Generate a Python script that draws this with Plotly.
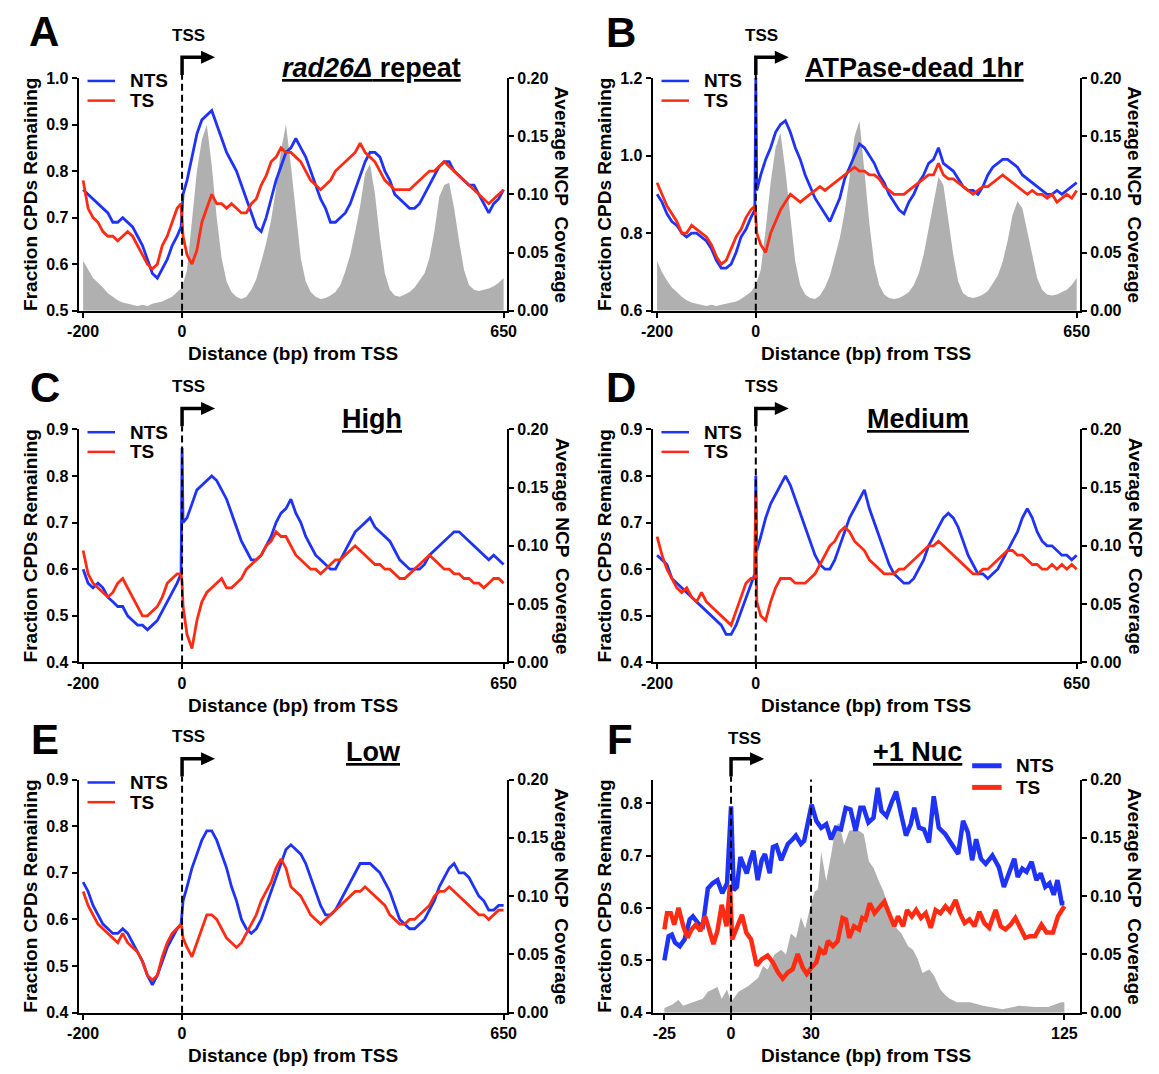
import plotly.graph_objects as go

# The page body keeps an 8px margin, so the figure is drawn 16px smaller
# and every position below is given in page pixels (offset by 8px).
PAGE_W, PAGE_H = 1159, 1074
OFF = 8
W, H = PAGE_W - 2 * OFF, PAGE_H - 2 * OFF
FONT = "Liberation Sans, Arial, Helvetica, sans-serif"
BLUE = "#1f33f7"
RED = "#ff2b12"
GRAY = "#b0b0b0"

# ---------------- data ----------------
# common positions for panels A-E (bp from TSS)
X_POS = list(range(-200, 0, 10)) + [-2, 0, 2] + list(range(10, 651, 10))
X_NCP = list(range(-200, 651, 10))

A_NTS = [0.76,0.75,0.74,0.73,0.72,0.71,0.69,0.69,0.70,0.69,0.68,0.66,0.64,0.61,0.58,0.57,0.59,0.61,0.64,0.66,
         0.68,0.71,0.75,
         0.78,0.83,0.88,0.91,0.92,0.93,0.90,0.87,0.84,0.82,
         0.80,0.77,0.74,0.71,0.68,0.67,0.70,0.74,0.78,0.81,
         0.84,0.85,0.87,0.85,0.83,0.80,0.77,0.74,0.72,0.69,
         0.69,0.70,0.71,0.73,0.76,0.79,0.82,0.84,0.84,0.83,
         0.80,0.78,0.75,0.74,0.73,0.72,0.72,0.73,0.75,0.77,
         0.79,0.81,0.82,0.82,0.80,0.79,0.78,0.77,0.77,0.75,
         0.73,0.71,0.73,0.74,0.76]
A_TS = [0.78,0.72,0.70,0.69,0.67,0.66,0.66,0.65,0.66,0.67,0.66,0.64,0.62,0.60,0.59,0.60,0.64,0.66,0.69,0.72,
        0.73,0.70,0.66,
        0.62,0.60,0.63,0.69,0.72,0.75,0.73,0.73,0.72,0.73,
        0.72,0.71,0.71,0.73,0.74,0.77,0.79,0.82,0.83,0.85,
        0.84,0.84,0.83,0.82,0.80,0.78,0.77,0.76,0.77,0.78,
        0.80,0.81,0.82,0.83,0.84,0.86,0.84,0.83,0.82,0.80,
        0.78,0.77,0.76,0.76,0.76,0.76,0.77,0.78,0.79,0.80,
        0.80,0.81,0.82,0.81,0.80,0.79,0.78,0.77,0.76,0.75,
        0.74,0.73,0.74,0.75,0.76]
A_NCP = [.043,.035,.028,.024,.020,.015,.012,.009,.007,.006,
         .005,.004,.005,.004,.006,.007,.008,.010,.012,.016,
         .020,.035,.075,.120,.147,.160,.125,.080,.045,.025,
         .016,.012,.010,.012,.018,.027,.042,.058,.078,.105,
         .138,.160,.125,.082,.045,.025,.016,.012,.010,.011,
         .013,.016,.022,.034,.048,.068,.090,.118,.126,.100,
         .062,.032,.018,.013,.012,.014,.016,.020,.026,.032,
         .045,.068,.098,.108,.110,.088,.060,.035,.022,.018,
         .017,.018,.019,.021,.024,.028]

B_NTS = [0.90,0.88,0.85,0.83,0.82,0.80,0.79,0.80,0.80,0.79,0.78,0.76,0.73,0.71,0.71,0.72,0.75,0.79,0.81,0.84,
         0.86,1.20,0.91,
         0.95,0.99,1.02,1.06,1.08,1.09,1.06,1.02,0.99,0.95,
         0.92,0.89,0.87,0.85,0.83,0.86,0.89,0.94,0.97,1.00,
         1.03,1.02,1.00,0.98,0.95,0.93,0.90,0.88,0.86,0.85,
         0.88,0.90,0.93,0.95,0.98,0.99,1.02,0.98,0.97,0.96,
         0.94,0.92,0.91,0.91,0.90,0.92,0.95,0.97,0.98,0.99,
         0.99,0.98,0.97,0.95,0.94,0.93,0.92,0.91,0.90,0.90,
         0.91,0.90,0.91,0.92,0.93]
B_TS = [0.93,0.90,0.87,0.85,0.83,0.80,0.80,0.82,0.81,0.80,0.79,0.77,0.74,0.72,0.73,0.76,0.79,0.81,0.84,0.86,
        0.87,0.84,0.80,
        0.77,0.75,0.80,0.83,0.86,0.88,0.90,0.89,0.88,0.89,
        0.90,0.91,0.92,0.91,0.92,0.93,0.94,0.95,0.96,0.97,
        0.96,0.96,0.95,0.95,0.94,0.92,0.91,0.90,0.90,0.90,
        0.91,0.92,0.93,0.94,0.95,0.95,0.98,0.95,0.94,0.94,
        0.93,0.92,0.91,0.90,0.91,0.92,0.92,0.93,0.94,0.95,
        0.94,0.93,0.92,0.91,0.90,0.91,0.90,0.90,0.89,0.90,
        0.88,0.89,0.90,0.89,0.91]
B_NCP = [.043,.033,.026,.020,.016,.012,.009,.007,.006,.005,
         .004,.005,.004,.005,.006,.007,.008,.010,.013,.016,
         .022,.035,.070,.110,.140,.153,.120,.078,.042,.022,
         .014,.011,.010,.013,.020,.030,.045,.062,.085,.115,
         .150,.163,.120,.075,.040,.022,.014,.011,.010,.011,
         .013,.016,.022,.032,.048,.070,.095,.115,.108,.080,
         .048,.025,.015,.012,.011,.012,.014,.017,.023,.030,
         .042,.060,.082,.094,.088,.068,.045,.028,.018,.014,
         .013,.014,.016,.018,.022,.028]

C_NTS = [0.60,0.57,0.56,0.57,0.56,0.54,0.53,0.52,0.52,0.50,0.49,0.48,0.48,0.47,0.48,0.49,0.51,0.53,0.55,0.57,
         0.59,0.86,0.70,
         0.71,0.74,0.77,0.78,0.79,0.80,0.79,0.77,0.75,0.72,
         0.69,0.66,0.64,0.62,0.62,0.63,0.65,0.67,0.70,0.72,
         0.73,0.75,0.72,0.70,0.67,0.65,0.63,0.62,0.61,0.60,
         0.60,0.62,0.64,0.66,0.68,0.69,0.70,0.71,0.69,0.68,
         0.67,0.66,0.64,0.62,0.61,0.60,0.60,0.60,0.61,0.63,
         0.64,0.65,0.66,0.67,0.68,0.68,0.67,0.66,0.65,0.64,
         0.63,0.62,0.63,0.62,0.61]
C_TS = [0.64,0.59,0.57,0.56,0.55,0.54,0.55,0.57,0.58,0.56,0.54,0.52,0.50,0.50,0.51,0.52,0.54,0.57,0.58,0.59,
        0.59,0.57,0.52,
        0.46,0.43,0.49,0.53,0.55,0.56,0.57,0.58,0.56,0.56,
        0.57,0.58,0.60,0.61,0.62,0.63,0.65,0.66,0.68,0.67,
        0.67,0.65,0.63,0.62,0.61,0.60,0.60,0.59,0.60,0.61,
        0.62,0.62,0.63,0.64,0.65,0.64,0.63,0.62,0.61,0.61,
        0.60,0.60,0.59,0.58,0.58,0.59,0.60,0.61,0.62,0.63,
        0.62,0.61,0.60,0.60,0.59,0.59,0.58,0.58,0.57,0.57,
        0.56,0.57,0.58,0.58,0.57]

D_NTS = [0.63,0.62,0.61,0.58,0.57,0.56,0.55,0.54,0.53,0.52,0.51,0.50,0.49,0.48,0.46,0.46,0.48,0.51,0.54,0.57,
         0.59,0.80,0.64,
         0.67,0.71,0.74,0.76,0.78,0.80,0.78,0.75,0.72,0.69,
         0.66,0.63,0.61,0.60,0.60,0.62,0.65,0.68,0.71,0.73,
         0.75,0.77,0.73,0.70,0.67,0.64,0.61,0.59,0.58,0.57,
         0.57,0.58,0.60,0.62,0.65,0.67,0.69,0.71,0.72,0.71,
         0.69,0.66,0.63,0.61,0.59,0.59,0.58,0.59,0.60,0.62,
         0.64,0.66,0.68,0.71,0.73,0.71,0.68,0.66,0.65,0.65,
         0.64,0.63,0.63,0.62,0.63]
D_TS = [0.67,0.63,0.60,0.58,0.56,0.55,0.56,0.54,0.53,0.55,0.53,0.52,0.51,0.50,0.49,0.48,0.51,0.54,0.57,0.58,
        0.58,0.76,0.53,
        0.50,0.49,0.53,0.56,0.58,0.58,0.58,0.57,0.57,0.57,
        0.58,0.59,0.61,0.63,0.65,0.66,0.68,0.69,0.68,0.66,
        0.65,0.64,0.62,0.61,0.60,0.59,0.59,0.59,0.60,0.60,
        0.61,0.62,0.63,0.64,0.65,0.65,0.66,0.65,0.64,0.63,
        0.62,0.61,0.60,0.59,0.59,0.60,0.60,0.61,0.62,0.63,
        0.64,0.64,0.63,0.63,0.62,0.61,0.61,0.60,0.60,0.61,
        0.60,0.61,0.60,0.61,0.60]

E_NTS = [0.68,0.66,0.63,0.61,0.59,0.58,0.57,0.57,0.58,0.57,0.55,0.53,0.51,0.48,0.46,0.48,0.51,0.54,0.56,0.58,
         0.59,0.61,0.64,
         0.67,0.71,0.74,0.77,0.79,0.79,0.77,0.74,0.71,0.67,
         0.64,0.60,0.58,0.57,0.58,0.60,0.63,0.66,0.69,0.72,
         0.75,0.76,0.75,0.74,0.72,0.69,0.66,0.63,0.61,0.61,
         0.62,0.64,0.66,0.68,0.70,0.72,0.72,0.72,0.71,0.70,
         0.68,0.66,0.63,0.60,0.59,0.58,0.58,0.59,0.60,0.62,
         0.64,0.67,0.69,0.71,0.72,0.70,0.70,0.69,0.67,0.65,
         0.64,0.62,0.62,0.63,0.63]
E_TS = [0.66,0.63,0.61,0.59,0.58,0.57,0.56,0.55,0.57,0.55,0.54,0.53,0.51,0.48,0.47,0.48,0.52,0.55,0.57,0.58,
        0.59,0.58,0.56,
        0.54,0.52,0.55,0.58,0.61,0.61,0.60,0.58,0.56,0.55,
        0.54,0.55,0.57,0.59,0.61,0.64,0.66,0.68,0.71,0.73,
        0.71,0.67,0.66,0.65,0.63,0.61,0.60,0.59,0.60,0.61,
        0.62,0.63,0.64,0.65,0.66,0.66,0.67,0.66,0.65,0.64,
        0.63,0.61,0.60,0.59,0.59,0.60,0.60,0.61,0.62,0.63,
        0.65,0.66,0.66,0.67,0.66,0.65,0.64,0.63,0.62,0.61,
        0.61,0.60,0.61,0.62,0.62]

# panel F (+1 nucleosome), own positions
F_NTS_X = [-25,-23.4,-22.2,-21,-19.2,-17.4,-15.5,-14.3,-12.4,-10.6,-8.7,-6.9,-5.1,-3.3,-1.5,0,1,2.2,3.5,4.7,
           5.9,7.2,8.4,10,11.5,12.7,14.5,15.7,17,18.8,20,21.3,23.1,24.3,26.2,27.4,29.2,30.2,32,33.8,
           35.7,37.5,39.3,41.2,43,44.8,46.7,48.5,49.7,51.5,53.4,55,56.4,58.3,60.1,61.9,63.8,65.6,67.4,68.7,
           70.5,72.3,74.2,76,77.9,80.3,82.7,85.2,87,88.8,90.4,91.9,93.7,95.5,98,100.4,102.3,104.1,106.2,107.5,
           109.2,110.8,112.7,114.5,116.1,117.8,119.4,121,122.4,124,125]
F_NTS = [.500,.546,.549,.534,.527,.540,.578,.584,.571,.565,.637,.647,.653,.628,.647,.794,.634,.640,.697,.684,
         .666,.691,.709,.653,.691,.703,.666,.716,.719,.691,.709,.722,.731,.738,.722,.728,.772,.797,.766,.753,
         .760,.731,.753,.750,.791,.788,.747,.791,.791,.763,.772,.829,.785,.775,.800,.822,.778,.738,.760,.791,
         .753,.750,.725,.813,.753,.741,.722,.703,.766,.744,.691,.731,.694,.684,.700,.678,.640,.666,.694,.659,
         .675,.669,.688,.653,.666,.640,.647,.625,.653,.609,.609]
F_TS_X = [-25,-24,-22.6,-21.3,-19.7,-17.9,-16.3,-14.8,-13.2,-11.5,-9.7,-8.1,-6.6,-5.1,-3.5,-1.7,-0.4,0.4,2.2,4.1,
          5.7,7.5,9.6,11.5,13.7,15.7,17.6,19.4,21.3,23.1,25,26.8,28.4,30.2,32,33.3,35.1,36.3,38.2,40,
          41.8,43.1,44.3,46.1,48,49.2,50.4,52,53.8,55.7,57.5,59.2,61.2,62.6,64.5,66,67.8,69.4,71.2,73,
          74.9,76.7,78.5,80.4,82.1,84.2,85.8,87.6,89.4,91.3,93.1,95,96.8,99.2,101.1,102.9,104.8,106.6,108.4,110.3,
          112.1,114,116.4,118.3,120.7,122.6,125]
F_TS = [.559,.590,.590,.568,.600,.565,.543,.559,.568,.556,.584,.553,.531,.556,.606,.565,.644,.540,.565,.587,
        .553,.540,.490,.502,.509,.496,.477,.465,.477,.483,.512,.487,.474,.487,.496,.521,.512,.537,.527,.537,
        .581,.578,.543,.565,.559,.581,.578,.609,.590,.600,.612,.590,.565,.584,.565,.596,.584,.596,.581,.590,
        .562,.596,.590,.603,.593,.615,.590,.571,.578,.565,.593,.571,.562,.596,.565,.559,.568,.581,.562,.543,
        .546,.546,.568,.553,.553,.584,.603]
F_NCP_X = [-25,-22,-19.7,-18,-14.3,-10.6,-8.7,-5.1,-3.5,-1.5,0,2.8,6.5,10.2,12,13.7,16.3,18.8,20.6,22.4,
           24.4,26.2,27.8,29.6,31.4,32.6,33.8,35.7,37.5,39.3,40.5,42.4,44.3,46.1,48,49.8,51.7,53.5,55.4,57.2,
           59,61.5,63.9,66.4,68.2,70,71.8,74.3,76.1,78.5,80.4,82,84.7,89.6,94.5,101.8,107.9,114,118.9,123.8,125]
F_NCP = [.004,.007,.011,.006,.009,.012,.018,.022,.012,.020,.009,.018,.023,.030,.040,.037,.050,.054,.050,.068,
         .064,.082,.072,.090,.104,.106,.138,.113,.135,.160,.163,.144,.156,.157,.156,.153,.130,.124,.113,.104,
         .090,.074,.068,.057,.054,.046,.034,.037,.032,.020,.015,.012,.009,.009,.006,.003,.006,.005,.005,.009,.009]

LONG_TICKS = [-200, 0, 650]
LONG_TICKTEXT = ["-200", "0", "650"]
F_TICKS = [-25, 0, 30, 125]
F_TICKTEXT = ["-25", "0", "30", "125"]
NCP_TICKS = [0, 0.05, 0.10, 0.15, 0.20]

PANELS = [
    dict(letter="A", title="<i>rad26Δ</i> repeat", x=X_POS, nts=A_NTS, ts=A_TS, ncp_x=X_NCP, ncp=A_NCP,
         left=68.8, right=505.2, top=71, bottom=307.5, xr=[-209, 657], xt=LONG_TICKS, xtt=LONG_TICKTEXT,
         yr=[0.5, 1.0], yt=[0.5, 0.6, 0.7, 0.8, 0.9, 1.0], title_xy=(367, 61), letter_xy=(33, 24)),
    dict(letter="B", title="ATPase-dead 1hr", x=X_POS, nts=B_NTS, ts=B_TS, ncp_x=X_NCP, ncp=B_NCP,
         left=653.5, right=1089, top=71, bottom=307.5, xr=[-209, 657], xt=LONG_TICKS, xtt=LONG_TICKTEXT,
         yr=[0.6, 1.2], yt=[0.6, 0.8, 1.0, 1.2], title_xy=(920, 61), letter_xy=(621, 25)),
    dict(letter="C", title="High", x=X_POS, nts=C_NTS, ts=C_TS, ncp_x=None, ncp=None,
         left=68.8, right=505.2, top=428, bottom=665, xr=[-209, 657], xt=LONG_TICKS, xtt=LONG_TICKTEXT,
         yr=[0.4, 0.9], yt=[0.4, 0.5, 0.6, 0.7, 0.8, 0.9], title_xy=(368, 418), letter_xy=(34, 386)),
    dict(letter="D", title="Medium", x=X_POS, nts=D_NTS, ts=D_TS, ncp_x=None, ncp=None,
         left=653.5, right=1089, top=428, bottom=665, xr=[-209, 657], xt=LONG_TICKS, xtt=LONG_TICKTEXT,
         yr=[0.4, 0.9], yt=[0.4, 0.5, 0.6, 0.7, 0.8, 0.9], title_xy=(924, 418), letter_xy=(621, 386)),
    dict(letter="E", title="Low", x=X_POS, nts=E_NTS, ts=E_TS, ncp_x=None, ncp=None,
         left=68.8, right=505.2, top=784, bottom=1021, xr=[-209, 657], xt=LONG_TICKS, xtt=LONG_TICKTEXT,
         yr=[0.4, 0.9], yt=[0.4, 0.5, 0.6, 0.7, 0.8, 0.9], title_xy=(369, 756), letter_xy=(34, 743)),
    dict(letter="F", title="+1 Nuc", x=None, nts=F_NTS, ts=F_TS, ncp_x=F_NCP_X, ncp=F_NCP,
         left=653.5, right=1089, top=784, bottom=1021, xr=[-29.4, 130.9], xt=F_TICKS, xtt=F_TICKTEXT,
         yr=[0.4, 0.845], yt=[0.4, 0.5, 0.6, 0.7, 0.8], title_xy=(923, 756), letter_xy=(620, 743)),
]


def fx(p):
    return (p - OFF) / W


def fy(p):
    return 1 - (p - OFF) / H


fig = go.Figure()
shapes = []
annotations = []
layout = dict(width=W, height=H, autosize=False, margin=dict(l=0, r=0, t=0, b=0, pad=0),
              paper_bgcolor="white", plot_bgcolor="white", showlegend=False,
              font=dict(family=FONT, color="black"))

TICKFONT = dict(family=FONT, size=16, color="black", weight="bold")
AXCOMMON = dict(ticks="outside", ticklen=5, tickwidth=2, tickcolor="black", showline=True,
                linewidth=2, linecolor="black", showgrid=False, zeroline=False, tickfont=TICKFONT,
                fixedrange=True)


def txt(x, y, s, size, angle=0, xanchor="center"):
    annotations.append(dict(x=fx(x), y=fy(y), xref="paper", yref="paper", text=s, showarrow=False,
                            font=dict(family=FONT, size=size, color="black"), textangle=angle,
                            xanchor=xanchor, yanchor="middle"))


for i, p in enumerate(PANELS):
    xid = "x" if i == 0 else f"x{i + 1}"
    xname = "xaxis" if i == 0 else f"xaxis{i + 1}"
    n_base, n_over = 2 * i + 1, 2 * i + 2
    y_base = "y" if n_base == 1 else f"y{n_base}"
    y_base_name = "yaxis" if n_base == 1 else f"yaxis{n_base}"
    y_over = f"y{n_over}"
    y_over_name = f"yaxis{n_over}"
    isF = p["letter"] == "F"
    lw = 4.5 if isF else 2.8

    # NCP coverage (base axis, right side)
    if p["ncp"] is not None:
        fig.add_trace(go.Scatter(x=p["ncp_x"], y=p["ncp"], xaxis=xid, yaxis=y_base, mode="lines",
                                 fill="tozeroy", fillcolor=GRAY, line=dict(width=0, color=GRAY),
                                 hoverinfo="skip"))
    else:
        fig.add_trace(go.Scatter(x=[p["xr"][0]], y=[0], xaxis=xid, yaxis=y_base, mode="markers",
                                 marker=dict(opacity=0), hoverinfo="skip"))
    nts_x = F_NTS_X if isF else p["x"]
    ts_x = F_TS_X if isF else p["x"]
    fig.add_trace(go.Scatter(x=nts_x, y=p["nts"], xaxis=xid, yaxis=y_over, mode="lines",
                             line=dict(color=BLUE, width=lw), name="NTS"))
    fig.add_trace(go.Scatter(x=ts_x, y=p["ts"], xaxis=xid, yaxis=y_over, mode="lines",
                             line=dict(color=RED, width=lw), name="TS"))

    dom_x = [fx(p["left"]), fx(p["right"])]
    dom_y = [fy(p["bottom"]), fy(p["top"])]
    layout[xname] = dict(domain=dom_x, range=p["xr"], anchor=y_base, tickvals=p["xt"],
                         ticktext=p["xtt"], **AXCOMMON)
    layout[y_base_name] = dict(domain=dom_y, range=[0, 0.2], anchor=xid, side="right",
                               tickvals=NCP_TICKS, tickformat=".2f", **AXCOMMON)
    layout[y_over_name] = dict(range=p["yr"], anchor=xid, overlaying=y_base, side="left",
                               tickvals=p["yt"], tickformat=".1f", **AXCOMMON)

    L, R, T, B = p["left"], p["right"], p["top"], p["bottom"]
    cx = (L + R) / 2
    cy = (T + B) / 2
    # axis titles
    txt(cx, B + 43.5, "<b>Distance (bp) from TSS</b>", 19)
    txt(L - 49, cy, "<b>Fraction CPDs Remaining</b>", 19, angle=-90)
    txt(R + 56, cy, "<b>Average NCP&nbsp; Coverage</b>", 19, angle=90)
    # panel letter and title
    txt(p["letter_xy"][0], p["letter_xy"][1], f"<b>{p['letter']}</b>", 42)
    txt(p["title_xy"][0], p["title_xy"][1], f"<b><u>{p['title']}</u></b>", 27)

    # TSS marker: dashed line + bent arrow anchored at x = 0
    arrow_y = T - 21
    shapes.append(dict(type="line", xref=xid, yref="paper", x0=0, x1=0, y0=fy(B), y1=fy(T - 3),
                       line=dict(color="black", width=2, dash="7px,4px"), layer="above"))
    shapes.append(dict(type="path", xref=xid, yref="paper", xsizemode="pixel", xanchor=0,
                       path=f"M 0,{fy(T - 3)} L 0,{fy(arrow_y)} L 21,{fy(arrow_y)}",
                       line=dict(color="black", width=3.5), layer="above"))
    shapes.append(dict(type="path", xref=xid, yref="paper", xsizemode="pixel", xanchor=0,
                       ysizemode="pixel", yanchor=fy(arrow_y), path="M 19,6.5 L 33,0 L 19,-6.5 Z",
                       fillcolor="black", line=dict(color="black", width=0), layer="above"))
    if isF:
        shapes.append(dict(type="line", xref=xid, yref="paper", x0=30, x1=30, y0=fy(B), y1=fy(T),
                           line=dict(color="black", width=2, dash="7px,4px"), layer="above"))
        annotations.append(dict(x=0, xref=xid, y=fy(T - 42), yref="paper", text="<b>TSS</b>",
                                showarrow=False, xshift=13, font=dict(family=FONT, size=17, color="black"),
                                xanchor="center", yanchor="middle"))
        lx0, lx1, ly1, ly2, tx = R - 110, R - 80, T - 14, T + 8, R - 67
        leg_w = 5
    else:
        annotations.append(dict(x=0, xref=xid, y=fy(T - 43.5), yref="paper", text="<b>TSS</b>",
                                showarrow=False, xshift=6, font=dict(family=FONT, size=17, color="black"),
                                xanchor="center", yanchor="middle"))
        lx0, lx1, ly1, ly2, tx = L + 9, L + 37, T + 3, T + 23, L + 50
        leg_w = 2.5
    shapes.append(dict(type="line", xref="paper", yref="paper", x0=fx(lx0), x1=fx(lx1), y0=fy(ly1), y1=fy(ly1),
                       line=dict(color=BLUE, width=leg_w)))
    shapes.append(dict(type="line", xref="paper", yref="paper", x0=fx(lx0), x1=fx(lx1), y0=fy(ly2), y1=fy(ly2),
                       line=dict(color=RED, width=leg_w)))
    txt(tx, ly1, "<b>NTS</b>", 19, xanchor="left")
    txt(tx, ly2, "<b>TS</b>", 19, xanchor="left")

layout["shapes"] = shapes
layout["annotations"] = annotations
fig.update_layout(**layout)
fig.write_html("out.html", config={"displayModeBar": False, "staticPlot": True})
